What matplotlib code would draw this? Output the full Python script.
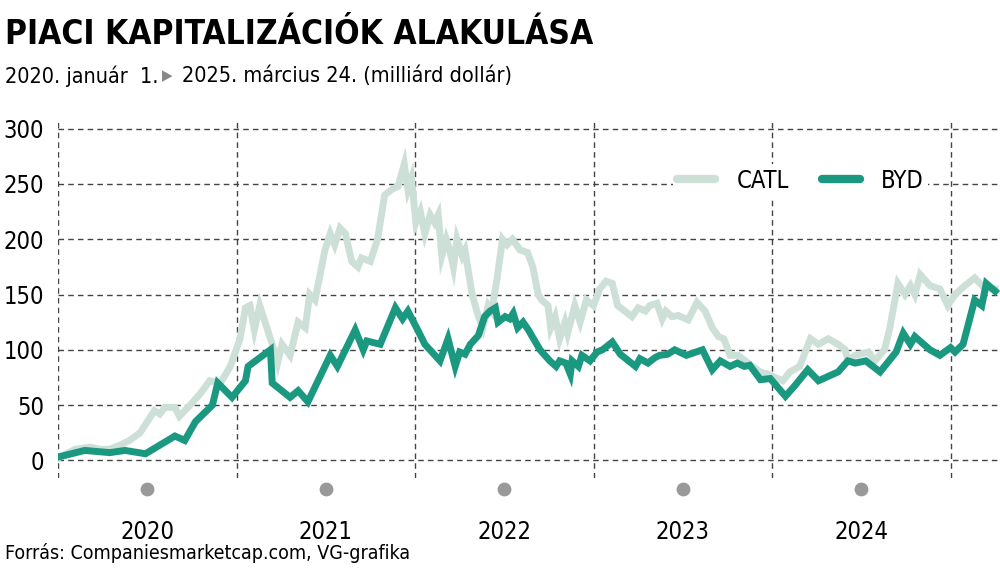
import numpy as np
import matplotlib.pyplot as plt

# years since 2020-01-01, market cap in billion USD
catl_t = [0, .095, .18, .235, .29, .35, .40, .46, .50, .54, .57, .60, .655, .68, .74, .795, .85, .91, .965,
          1.02, 1.05, 1.075, 1.10, 1.13, 1.16, 1.20, 1.23, 1.255, 1.30, 1.345, 1.385, 1.41, 1.44, 1.495,
          1.525, 1.55, 1.58, 1.61, 1.645, 1.68, 1.70, 1.75, 1.79, 1.83, 1.87, 1.905, 1.94, 1.96, 1.98,
          2.005, 2.03, 2.055, 2.085, 2.11, 2.13, 2.15, 2.175, 2.195, 2.215, 2.235, 2.265, 2.28, 2.32,
          2.355, 2.38, 2.41, 2.43, 2.46, 2.49, 2.515, 2.545, 2.59, 2.63, 2.66, 2.69, 2.71, 2.745, 2.76,
          2.785, 2.81, 2.84, 2.855, 2.895, 2.925, 2.96, 3.0, 3.035, 3.07, 3.105, 3.135, 3.175, 3.215,
          3.25, 3.29, 3.315, 3.355, 3.385, 3.405, 3.44, 3.475, 3.53, 3.58, 3.625, 3.665, 3.70, 3.73,
          3.765, 3.81, 3.85, 3.89, 3.935, 3.98, 4.015, 4.06, 4.10, 4.155, 4.215, 4.26, 4.315, 4.37,
          4.41, 4.425, 4.465, 4.54, 4.575, 4.63, 4.66, 4.705, 4.745, 4.775, 4.80, 4.83, 4.885, 4.94,
          4.985, 5.025, 5.08, 5.135, 5.195, 5.25]
catl_v = [2, 10, 12, 10, 10, 14, 18, 25, 35, 45, 42, 48, 48, 40, 50, 60, 72, 70, 85,
          110, 138, 140, 118, 140, 125, 105, 88, 105, 95, 125, 120, 150, 145, 190,
          205, 195, 210, 205, 180, 175, 183, 180, 200, 240, 245, 248, 268, 245, 255,
          215, 225, 205, 222, 215, 222, 185, 200, 190, 175, 200, 185, 190, 150,
          130, 120, 140, 135, 165, 200, 195, 200, 190, 188, 175, 150, 145, 140, 120,
          130, 110, 125, 115, 140, 125, 145, 140, 155, 162, 160, 140, 135, 130,
          138, 135, 140, 142, 128, 135, 130, 131, 127, 143, 135, 120, 112, 110,
          95, 95, 90, 85, 80, 78, 75, 72, 80, 85, 110, 105, 110, 105,
          100, 90, 95, 98, 90, 100, 120, 160, 150, 158, 150, 168, 158, 155,
          140, 150, 158, 165, 155, 155]

byd_t = [0, .15, .29, .375, .49, .655, .71, .77, .865, .895, .975, 1.05, 1.065, 1.19, 1.20, 1.30, 1.345,
         1.40, 1.525, 1.565, 1.665, 1.71, 1.73, 1.805, 1.89, 1.93, 1.96, 2.015, 2.055, 2.14, 2.185,
         2.225, 2.25, 2.28, 2.31, 2.355, 2.39, 2.42, 2.45, 2.465, 2.505, 2.53, 2.55, 2.575, 2.605,
         2.635, 2.70, 2.755, 2.79, 2.81, 2.845, 2.87, 2.88, 2.915, 2.935, 2.98, 3.02, 3.05, 3.105,
         3.15, 3.235, 3.26, 3.305, 3.345, 3.37, 3.415, 3.455, 3.52, 3.61, 3.665, 3.71, 3.765, 3.805,
         3.845, 3.875, 3.935, 3.99, 4.075, 4.13, 4.20, 4.26, 4.37, 4.425, 4.465, 4.525, 4.605, 4.695,
         4.735, 4.775, 4.80, 4.885, 4.94, 5.0, 5.025, 5.07, 5.135, 5.175, 5.20, 5.25]
byd_v = [3, 9, 7, 9, 6, 22, 18, 35, 50, 70, 57, 72, 85, 100, 70, 57, 63,
         53, 95, 85, 118, 100, 108, 105, 138, 128, 135, 118, 105, 90, 110,
         85, 98, 96, 105, 113, 130, 135, 138, 125, 130, 128, 133, 120, 125,
         118, 100, 90, 85, 90, 88, 78, 90, 85, 95, 90, 98, 100, 107,
         96, 85, 92, 88, 93, 95, 96, 100, 95, 100, 82, 90, 85, 88,
         85, 86, 73, 74, 58, 68, 82, 72, 80, 90, 88, 90, 80, 98,
         115, 105, 112, 100, 95, 102, 98, 105, 145, 140, 160, 153]

years = ['2020', '2021', '2022', '2023', '2024']
yticks = [0, 50, 100, 150, 200, 250, 300]

plt.rcParams['font.family'] = 'DejaVu Sans'
plt.rcParams['font.stretch'] = 'condensed'
catl_col = '#cde0d8'
byd_col = '#1a9880'

fig = plt.figure(figsize=(10, 5.76), dpi=100)
ax = fig.add_axes([0.058, 0.170, 0.942, 0.622])
ax.set_xlim(0, 5.277)
ax.set_ylim(-16, 308)

for y in yticks:
    ax.axhline(y, color='#444444', lw=1, ls=(0, (4, 3)), zorder=1)
for x in range(6):
    ax.axvline(x, color='#444444', lw=1, ls=(0, (4, 3)), zorder=1)

ax.plot(catl_t, catl_v, color=catl_col, lw=5, solid_joinstyle='miter', label='CATL', zorder=3)
ax.plot(byd_t, byd_v, color=byd_col, lw=5, solid_joinstyle='miter', label='BYD', zorder=4)

for s in ax.spines.values():
    s.set_visible(False)
ax.set_yticks(yticks)
ax.set_yticklabels([str(v) for v in yticks], fontsize=17)
ax.tick_params(axis='y', length=0, pad=10)
mids = [i + 0.5 for i in range(5)]
ax.set_xticks(mids)
ax.set_xticklabels(years, fontsize=17)
ax.tick_params(axis='x', length=0, pad=30)
ax.scatter(mids, [-26] * 5, s=80, color='#999999', clip_on=False, zorder=5)

leg = ax.legend(loc='upper left', bbox_to_anchor=(0.64, 0.91), ncol=2, frameon=True, fontsize=17,
                handlelength=1.6, columnspacing=1.4, handletextpad=0.9, borderpad=0.2)
leg.get_frame().set_edgecolor('none')
leg.get_frame().set_facecolor('white')
leg.get_frame().set_alpha(1)
for l in leg.get_lines():
    l.set_linewidth(6)
    l.set_solid_capstyle('round')

fig.text(0.005, 0.94, 'PIACI KAPITALIZÁCIÓK ALAKULÁSA', fontsize=24, fontweight='bold', va='center')
fig.text(0.005, 0.868, '2020. január  1.', fontsize=15.5, va='center')
fig.text(0.162, 0.868, '\u25B6', fontsize=11, color='#888888', va='center')
fig.text(0.182, 0.868, '2025. március 24. (milliárd dollár)', fontsize=15.5, va='center')
fig.text(0.005, 0.04, 'Forrás: Companiesmarketcap.com, VG-grafika', fontsize=14, va='center')

fig.savefig('out.png', dpi=100)
